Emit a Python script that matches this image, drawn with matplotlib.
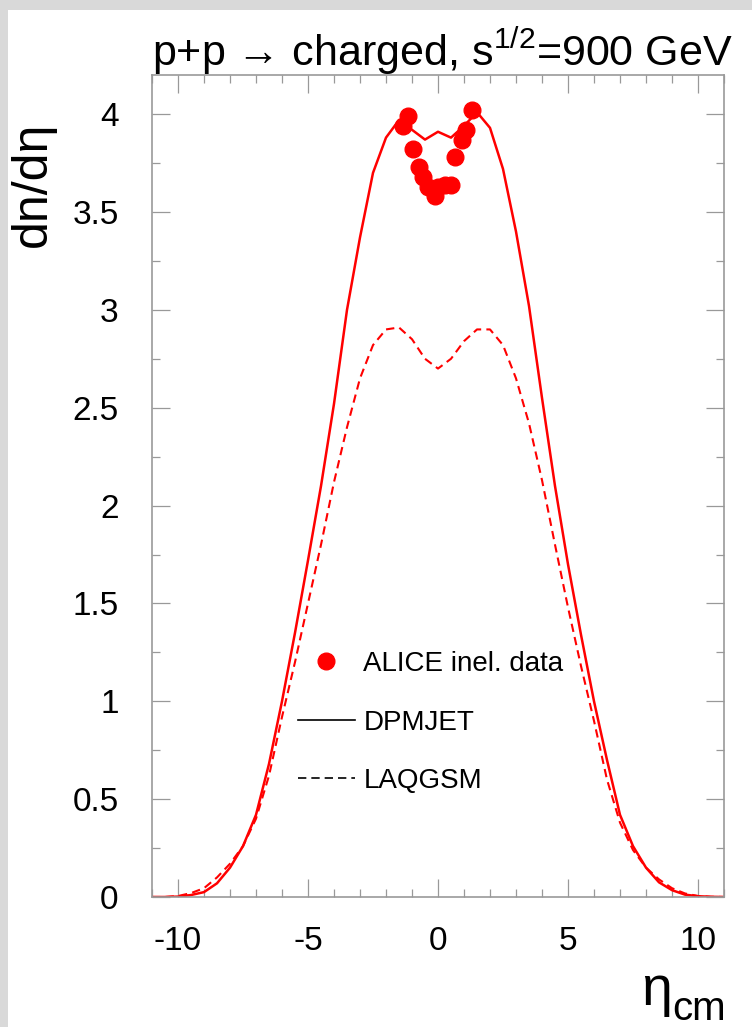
"""dn/deta of charged particles in p+p at 900 GeV"""
import matplotlib
matplotlib.use('Agg')
import matplotlib.pyplot as plt
from matplotlib.lines import Line2D
from matplotlib.patches import Rectangle
from matplotlib.ticker import MultipleLocator, FuncFormatter

plt.rcParams['font.family'] = ['Liberation Sans', 'DejaVu Sans']
plt.rcParams['mathtext.fontset'] = 'custom'
plt.rcParams['mathtext.rm'] = 'Liberation Sans'
plt.rcParams['mathtext.it'] = 'Liberation Sans'
plt.rcParams['axes.unicode_minus'] = False

# model curves, eta grid step 0.5
eta_model = [-11, -10.5, -10, -9.5, -9, -8.5, -8, -7.5, -7, -6.5, -6, -5.5, -5,
             -4.5, -4, -3.5, -3, -2.5, -2, -1.5, -1, -0.5, 0, 0.5, 1, 1.5, 2,
             2.5, 3, 3.5, 4, 4.5, 5, 5.5, 6, 6.5, 7, 7.5, 8, 8.5, 9, 9.5, 10,
             10.5, 11]
dpmjet = [0, 0, 0.002, 0.01, 0.025, 0.07, 0.15, 0.26, 0.42, 0.68, 1.0, 1.35,
          1.72, 2.10, 2.52, 3.0, 3.37, 3.70, 3.88, 3.97, 3.92, 3.87, 3.91,
          3.88, 3.94, 4.01, 3.93, 3.72, 3.40, 3.02, 2.55, 2.10, 1.70, 1.34,
          1.0, 0.70, 0.42, 0.26, 0.15, 0.075, 0.035, 0.012, 0.004, 0.001, 0]
laqgsm = [0, 0, 0.005, 0.02, 0.045, 0.10, 0.17, 0.26, 0.40, 0.62, 0.92, 1.2,
          1.5, 1.80, 2.12, 2.40, 2.65, 2.82, 2.90, 2.91, 2.85, 2.75, 2.70,
          2.75, 2.84, 2.90, 2.90, 2.82, 2.65, 2.42, 2.13, 1.80, 1.48, 1.18,
          0.9, 0.6, 0.38, 0.24, 0.15, 0.09, 0.045, 0.018, 0.005, 0.001, 0]

# ALICE inelastic data
eta_alice = [-1.36, -1.14, -0.95, -0.72, -0.56, -0.37, -0.12, 0.01, 0.27,
             0.49, 0.65, 0.91, 1.08, 1.30]
dn_alice = [3.94, 3.99, 3.82, 3.73, 3.68, 3.63, 3.58, 3.63, 3.64, 3.64,
            3.78, 3.87, 3.92, 4.02]

W, H = 752, 1027
fig = plt.figure(figsize=(W / 100, H / 100), dpi=100)

# grey border strip on top/left, white panel
fig.patches.append(Rectangle((0, 0), 1, 1, transform=fig.transFigure,
                             facecolor='#d9d9d9', edgecolor='none', zorder=-10))
fig.patches.append(Rectangle((8 / W, 0), 1, 1 - 10 / H, transform=fig.transFigure,
                             facecolor='white', edgecolor='none', zorder=-9))

ax = fig.add_axes([152 / W, 1 - 897 / H, (724 - 152) / W, (897 - 75) / H])
ax.set_facecolor('none')

ax.plot(eta_model, dpmjet, color='red', lw=1.8)
ax.plot(eta_model, laqgsm, color='red', lw=1.5, dashes=(4, 2.5))
ax.plot(eta_alice, dn_alice, 'o', color='red', ms=12, mec='red')

ax.set_xlim(-11, 11)
ax.set_ylim(0, 4.2)
ax.xaxis.set_major_locator(MultipleLocator(5))
ax.xaxis.set_minor_locator(MultipleLocator(1))
ax.yaxis.set_major_locator(MultipleLocator(0.5))
ax.yaxis.set_minor_locator(MultipleLocator(0.25))
ax.yaxis.set_major_formatter(FuncFormatter(lambda v, p: '%g' % v))
ax.xaxis.set_major_formatter(FuncFormatter(lambda v, p: '%g' % v))

grey = '#999999'
ax.tick_params(which='both', direction='in', top=True, right=True, color=grey,
               width=0.9, labelsize=24)
ax.tick_params(which='major', length=13)
ax.tick_params(which='minor', length=6)
ax.tick_params(axis='x', pad=21)
ax.tick_params(axis='y', pad=24)
for s in ax.spines.values():
    s.set_color(grey)
    s.set_linewidth(1.2)

fig.text(152 / W, 1 - 66 / H, r'p+p → charged, s$^{1/2}$=900 GeV',
         fontsize=31, ha='left', va='baseline')
fig.text(33 / W, 1 - 122 / H, 'dn/dη', rotation=90, fontsize=36,
         ha='center', va='top')
fig.text(672 / W, 1 - 1005 / H, 'η', fontsize=40, ha='right', va='baseline')
fig.text(672 / W, 1 - 1020 / H, 'cm', fontsize=29, ha='left', va='baseline')

handles = [
    Line2D([], [], ls='none', marker='o', color='red', ms=12),
    Line2D([], [], color='black', lw=1.2),
    Line2D([], [], color='black', lw=1.2, dashes=(5, 3)),
]
labels = ['ALICE inel. data', 'DPMJET', 'LAQGSM']
fig.legend(handles, labels, loc='upper left', frameon=False, fontsize=20,
           bbox_to_anchor=(298 / W, 1 - 651 / H), borderpad=0,
           borderaxespad=0, handlelength=2.05, handletextpad=0.3,
           labelspacing=1.17)

fig.savefig('out.png', dpi=100)
